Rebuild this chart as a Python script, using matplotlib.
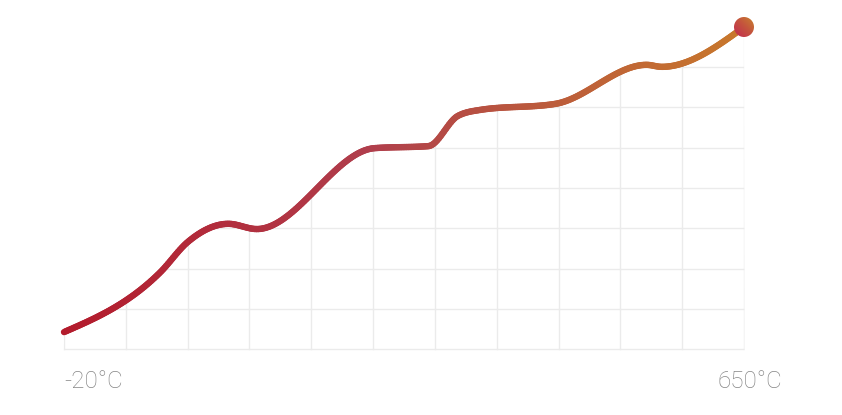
import numpy as np
import matplotlib
matplotlib.use("Agg")
import matplotlib.pyplot as plt
from matplotlib.collections import LineCollection
from matplotlib.colors import LinearSegmentedColormap
from matplotlib.patches import Polygon, Ellipse

# data
temps = [-20, 75, 102, 142, 170, 286, 339, 368, 390, 464, 554, 569, 650]
values = [0.42, 1.91, 2.66, 3.11, 2.98, 4.99, 5.04, 5.79, 5.94, 6.09, 7.06, 7.01, 8.0]
x_labels = ["-20°C", "650°C"]
grid_x = np.linspace(-20, 650, 12)
grid_y = np.arange(0, 9)


def monotone(x, y, n=400):
    # same slopes as d3.curveMonotoneX
    x = np.asarray(x, float)
    y = np.asarray(y, float)
    h = np.diff(x)
    d = np.diff(y) / h
    m = np.zeros_like(y)
    for i in range(1, len(x) - 1):
        s0, s1 = d[i - 1], d[i]
        p = (s0 * h[i] + s1 * h[i - 1]) / (h[i - 1] + h[i])
        m[i] = (np.sign(s0) + np.sign(s1)) * min(abs(s0), abs(s1), 0.5 * abs(p))
    m[0] = (3 * d[0] - m[1]) / 2
    m[-1] = (3 * d[-1] - m[-2]) / 2
    xs = np.linspace(x[0], x[-1], n)
    k = np.clip(np.searchsorted(x, xs) - 1, 0, len(h) - 1)
    t = (xs - x[k]) / h[k]
    h00 = 2 * t**3 - 3 * t**2 + 1
    h10 = t**3 - 2 * t**2 + t
    h01 = -2 * t**3 + 3 * t**2
    h11 = t**3 - t**2
    ys = h00 * y[k] + h10 * h[k] * m[k] + h01 * y[k + 1] + h11 * h[k] * m[k + 1]
    return xs, ys


# pixel mapping: x -20..650 -> 64..744 px, y 0..8 -> 349..27 px
W, H = 842, 415
px_x = 680 / 670
px_y = 322 / 8
x0, x1 = -20 - 30 / px_x, 650 + 30 / px_x
y0, y1 = 0 - 20 / px_y, 8 + 20 / px_y
left = 64 - 30
bottom = H - 349 - 20

fig = plt.figure(figsize=(W / 100, H / 100), dpi=100)
ax = fig.add_axes([left / W, bottom / H, (x1 - x0) * px_x / W, (y1 - y0) * px_y / H])
ax.set_xlim(x0, x1)
ax.set_ylim(y0, y1)
ax.axis("off")

xs, ys = monotone(temps, values)

# grid only visible under the curve
area = Polygon(np.column_stack([np.r_[xs, 650.5, -20.5], np.r_[ys, -0.2, -0.2]]),
               closed=True, transform=ax.transData, fill=False, edgecolor="none")
ax.add_patch(area)
for gx in grid_x:
    ln, = ax.plot([gx, gx], [0, 8], color="#ebebeb", lw=1, zorder=1)
    ln.set_clip_path(area)
for gy in grid_y:
    ln, = ax.plot([-20, 650], [gy, gy], color="#ebebeb", lw=1, zorder=1)
    ln.set_clip_path(area)

cmap = LinearSegmentedColormap.from_list(
    "heat", [(0, "#b31b2c"), (0.45, "#b03e4c"), (0.7, "#bb5a3c"), (1, "#c8782c")])
pts = np.column_stack([xs, ys]).reshape(-1, 1, 2)
segs = np.concatenate([pts[:-1], pts[1:]], axis=1)
lc = LineCollection(segs, colors=cmap((xs[:-1] + 20) / 670), linewidths=4.6,
                    capstyle="round", joinstyle="round", zorder=3)
ax.add_collection(lc)

# end marker with gradient fill
ex, ey = temps[-1], values[-1]
rw, rh = 10 / px_x, 10 / px_y
dot = Ellipse((ex, ey), 2 * rw, 2 * rh, transform=ax.transData,
              fill=False, edgecolor="none")
ax.add_patch(dot)
g = np.add.outer(np.linspace(0, 1, 50), np.linspace(0, 1, 50)) / 2
dcmap = LinearSegmentedColormap.from_list("dot", ["#c22a50", "#c4503f", "#c8802e"])
im = ax.imshow(g, cmap=dcmap, origin="lower", extent=[ex - rw, ex + rw, ey - rh, ey + rh],
               aspect="auto", zorder=4, interpolation="bilinear")
im.set_clip_path(dot)
ax.set_xlim(x0, x1)
ax.set_ylim(y0, y1)

fig.text(64 / W, 1 - 381 / H, x_labels[0], ha="left", va="center",
         fontsize=17.5, color="#858585", family="Roboto", fontweight="light")
fig.text(750 / W, 1 - 381 / H, x_labels[1], ha="center", va="center",
         fontsize=17.5, color="#858585", family="Roboto", fontweight="light")

fig.savefig("out.png", dpi=100, facecolor="white")
